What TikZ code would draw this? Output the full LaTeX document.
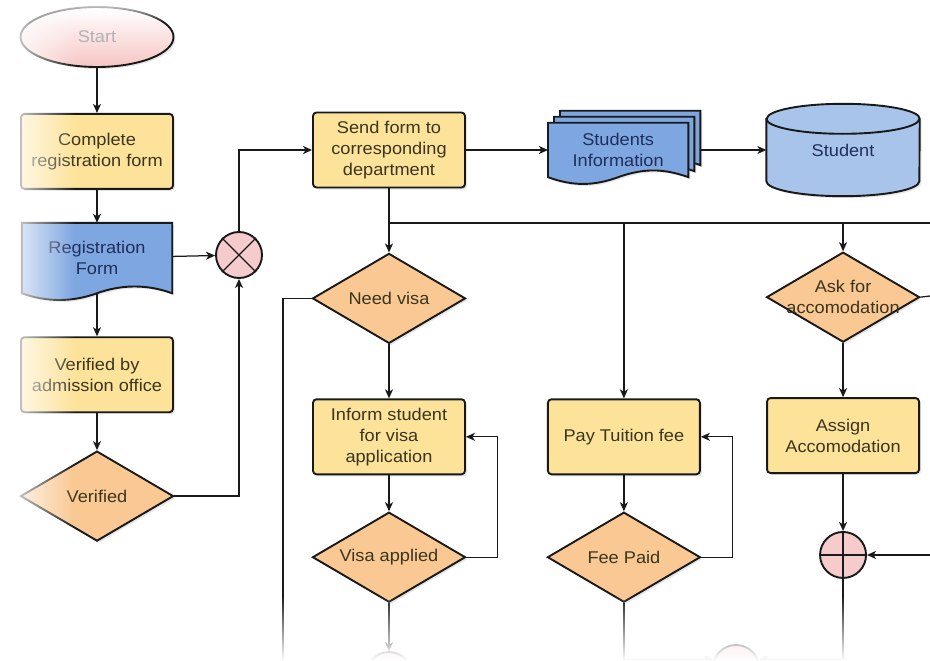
\documentclass[tikz,border=0pt]{standalone}
\usepackage{fontspec}
\setmainfont{Liberation Sans}[FakeStretch=1.07]
\usetikzlibrary{positioning,shapes.geometric,arrows.meta,shadows,fadings,backgrounds}

\definecolor{procfill}{HTML}{FDE39A}
\definecolor{decfill}{HTML}{FAC892}
\definecolor{docfill}{HTML}{7EA6E0}
\definecolor{storefill}{HTML}{A9C4EB}
\definecolor{mergefill}{HTML}{F5CBCB}
\definecolor{startfill}{HTML}{F6C6C4}
\definecolor{proctext}{HTML}{3A3520}
\definecolor{doctext}{HTML}{1F2F5C}

\tikzfading[name=fadeleft, left color=transparent!0, right color=transparent!100]
\tikzfading[name=fadedown, top color=transparent!100, bottom color=transparent!0]
\tikzfading[name=fadetop, top color=transparent!0, bottom color=transparent!100]

\newcommand{\docsheet}[2]{\draw[docsheet] ([shift={#2}]#1.north west) -- ([shift={#2}]#1.north east) -- ([shift={#2}]#1.south east) .. controls +(-25,-9) and +(25,-9) .. ([shift={#2}]#1.south) .. controls +(-25,9) and +(25,9) .. ([shift={#2}]#1.south west) -- cycle;}
\newcommand{\storesheet}[1]{%
  \draw[storesheet] ([yshift=-15pt]#1.north west) -- ([yshift=15pt]#1.south west) arc[start angle=180, end angle=360, x radius=76.5pt, y radius=15pt] -- ([yshift=-15pt]#1.north east) arc[start angle=0, end angle=180, x radius=76.5pt, y radius=15pt] -- cycle;
  \draw[storeline] ([yshift=-15pt]#1.north west) arc[start angle=180, end angle=360, x radius=76.5pt, y radius=15pt];}

\begin{document}
\begin{tikzpicture}[x=1pt, y=-1pt, font=\fontsize{17}{21}\selectfont]
      \tikzstyle{terminal}=[ellipse, minimum width=153pt, minimum height=60pt, line width=1.9pt, draw=black!90, top color=white, bottom color=startfill, text=gray!60, drop shadow={shadow xshift=2pt, shadow yshift=-2pt, opacity=0.2}]
      \tikzstyle{process}=[rectangle, rounded corners=3.5pt, minimum width=152pt, minimum height=75pt, inner sep=2pt, line width=1.9pt, draw=black!90, fill=procfill, text=proctext, align=center, drop shadow={shadow xshift=2pt, shadow yshift=-2pt, opacity=0.2}]
      \tikzstyle{decision}=[diamond, minimum width=153pt, minimum height=90pt, inner xsep=-30pt, inner ysep=-6pt, line width=1.9pt, draw=black!90, fill=decfill, text=proctext, align=center, drop shadow={shadow xshift=2pt, shadow yshift=-2pt, opacity=0.2}]
      \tikzstyle{docnode}=[rectangle, minimum width=150pt, minimum height=70pt, text=doctext, align=center]
      \tikzstyle{docsheet}=[line width=1.9pt, draw=black!90, fill=docfill, drop shadow={shadow xshift=2pt, shadow yshift=-2pt, opacity=0.2}]
      \tikzstyle{store}=[rectangle, minimum width=153pt, minimum height=92pt, text=doctext]
      \tikzstyle{storesheet}=[line width=1.9pt, draw=black!90, fill=storefill, drop shadow={shadow xshift=2pt, shadow yshift=-2pt, opacity=0.2}]
      \tikzstyle{storeline}=[line width=1.9pt, draw=black!90]
      \tikzstyle{mergenode}=[circle, minimum size=46pt, inner sep=0pt, line width=1.9pt, draw=black!90, fill=mergefill]
      \tikzstyle{wire}=[line width=1.25pt, draw=black!90]
      \tikzstyle{connect}=[-{Stealth[length=9pt, width=8pt, inset=2.5pt]}, line width=1.25pt, draw=black!90]

      \useasboundingbox (0,0) rectangle (930,661);

      \node[terminal] (start) at (97,37) {Start};
      \node[process] (complete) [below=45pt of start] {Complete\\registration form};
      \node[docnode] (regform) [below=33pt of complete] {Registration\\Form};
      \node[process] (verby) [below=43pt of regform] {Verified by\\admission office};
      \node[decision] (verified) [below=37pt of verby] {Verified};
      \node[mergenode] (join) at (239,255) {};

      \node[process] (send) at (389,150) {Send form to\\corresponding\\department};
      \node[docnode, minimum width=140pt, minimum height=54pt] (info) [right=82pt of send] {Students\\Information};
      \node[store] (student) [right=78pt of info] {Student};

      \node[decision] (visa) [below=64pt of send] {Need visa};
      \node[process] (inform) [below=54pt of visa] {Inform student\\for visa\\application};
      \node[decision] (applied) [below=36pt of inform] {Visa applied};
      \node[mergenode] (visaout) [below=48pt of applied] {};

      \node[process] (pay) [right=81pt of inform] {Pay Tuition fee};
      \node[decision] (paid) [below=36pt of pay] {Fee Paid};

      \node[decision] (ask) [below=55pt of student] {Ask for\\accomodation};
      \node[process] (assign) [below=54pt of ask] {Assign\\Accomodation};
      \node[mergenode] (total) [below=57pt of assign] {};
      \node[mergenode] (feeout) at (736,668) {};

      \begin{scope}[on background layer]
        \fill[white] (0,0) rectangle (930,661);
        \docsheet{regform}{(0,0)}
        \docsheet{info}{(12,-12)}
        \docsheet{info}{(6,-6)}
        \docsheet{info}{(0,0)}
        \storesheet{student}
      \end{scope}

      \draw[wire] (join.north west) -- (join.south east) (join.north east) -- (join.south west);
      \draw[wire] (total.north) -- (total.south) (total.west) -- (total.east);

      \coordinate (split) at (389,223);
      \coordinate (rightend) at (930,223);
      \coordinate (askend) at (930,296);
      \coordinate (totalin) at (930,550);
      \coordinate (visadown) at (283,670);

      \path (start) edge [connect] (complete);
      \path (complete) edge [connect] (regform);
      \path (regform) edge [connect] (verby);
      \path (verby) edge [connect] (verified);
      \path (regform) edge [connect] (join);
      \draw[connect] (verified.east) -| (join.south);
      \draw[connect] (join.north) |- (send.west);
      \path (send) edge [connect] (info);
      \draw[connect] ([xshift=12pt]info.east) -- (student.west);

      \draw[wire] (send.south) -- (split) -- (rightend);
      \path (split) edge [connect] (visa);
      \draw[connect] (split -| pay) -- (pay);
      \draw[connect] (split -| ask) -- (ask);
      \draw[wire] (ask.east) -- (askend);

      \path (visa) edge [connect] (inform);
      \path (inform) edge [connect] (applied);
      \draw[connect] (applied.east) -- ++(31,0) |- (inform.east);
      \draw[wire] (visa.west) -| (visadown);
      \path (applied) edge [connect] (visaout);

      \path (pay) edge [connect] (paid);
      \draw[connect] (paid.east) -- ++(31,0) |- (pay.east);
      \draw[connect] (paid.south) |- (feeout.160);

      \path (ask) edge [connect] (assign);
      \path (assign) edge [connect] (total);
      \draw[connect] (totalin |- total) -- (total.east);
      \draw[connect] (total.south) |- (feeout.20);

      \fill[white, path fading=fadeleft] (0,0) rectangle (75,661);
      \fill[white, path fading=fadedown] (0,595) rectangle (930,661);
      \fill[white, path fading=fadetop] (0,0) rectangle (930,22);
\end{tikzpicture}
\end{document}
